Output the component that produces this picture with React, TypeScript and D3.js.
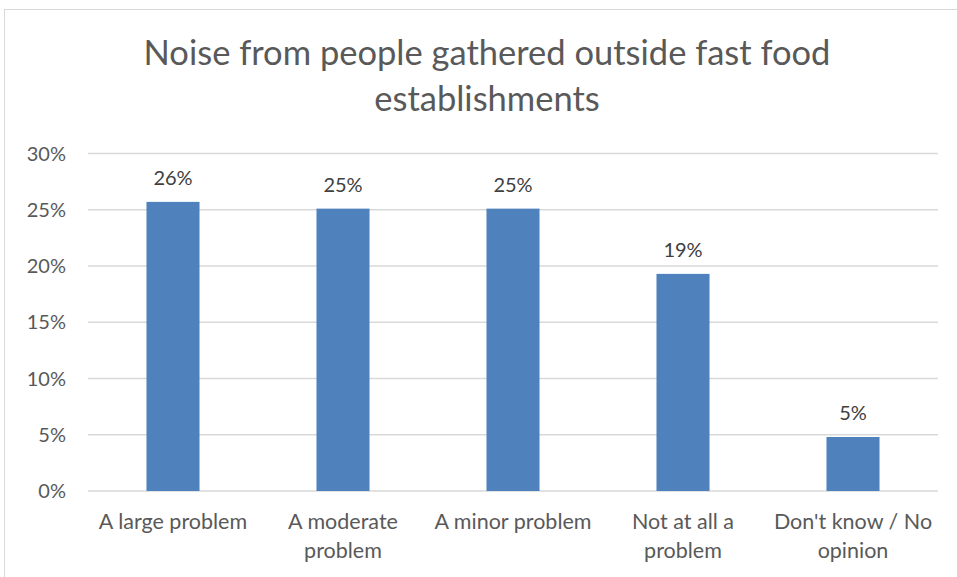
import React from "react";
import * as d3 from "d3";

const categories: string[][] = [
  ["A large problem"],
  ["A moderate", "problem"],
  ["A minor problem"],
  ["Not at all a", "problem"],
  ["Don't know / No", "opinion"],
];
const values: number[] = [0.257, 0.251, 0.251, 0.193, 0.048];
const valueLabels: string[] = ["26%", "25%", "25%", "19%", "5%"];
const yTicks: number[] = [0, 0.05, 0.1, 0.15, 0.2, 0.25, 0.3];
const titleLines: string[] = ["Noise from people gathered outside fast food", "establishments"];

const W = 957;
const H = 577;
const FONT = "Lato, 'Open Sans', sans-serif";
const TEXT = "#595959";

export default function App() {
  const plotLeft = 88;
  const plotRight = 938;
  const y = d3.scaleLinear().domain([0, 0.3]).range([491, 153.5]);
  const x = d3
    .scaleBand<number>()
    .domain(d3.range(values.length))
    .range([plotLeft, plotRight])
    .paddingInner(0.688)
    .paddingOuter(0.344);
  const fmt = d3.format(".0%");

  return (
    <svg
      width={W}
      height={H}
      style={{ position: "absolute", left: 0, top: 0, display: "block" }}
    >
      <rect x={0} y={0} width={W} height={H} fill="#ffffff" />
      <rect x={4.5} y={9.5} width={W + 20} height={H + 20} fill="#ffffff" stroke="#d9d9d9" strokeWidth={1} />
      {titleLines.map((t, i) => (
        <text
          key={i}
          x={487}
          y={65 + i * 46}
          textAnchor="middle"
          fontFamily={FONT}
          fontSize={34.5}
          fill={TEXT}
        >
          {t}
        </text>
      ))}
      {yTicks.map((t) => (
        <g key={t}>
          <line x1={plotLeft} x2={plotRight} y1={y(t)} y2={y(t)} stroke="#d9d9d9" strokeWidth={1.3} />
          <text
            x={66}
            y={y(t) + 7}
            textAnchor="end"
            fontFamily={FONT}
            fontSize={20}
            fill={TEXT}
          >
            {fmt(t)}
          </text>
        </g>
      ))}
      {values.map((v, i) => (
        <g key={i}>
          <rect
            x={x(i)}
            y={y(v)}
            width={x.bandwidth()}
            height={y(0) - y(v)}
            fill="#4f81bd"
          />
          <text
            x={(x(i) as number) + x.bandwidth() / 2}
            y={y(v) - 17}
            textAnchor="middle"
            fontFamily={FONT}
            fontSize={20}
            fill="#404040"
          >
            {valueLabels[i]}
          </text>
          {categories[i].map((line, j) => (
            <text
              key={j}
              x={(x(i) as number) + x.bandwidth() / 2}
              y={529 + j * 29}
              textAnchor="middle"
              fontFamily={FONT}
              fontSize={21.5}
              fill={TEXT}
            >
              {line}
            </text>
          ))}
        </g>
      ))}
    </svg>
  );
}
